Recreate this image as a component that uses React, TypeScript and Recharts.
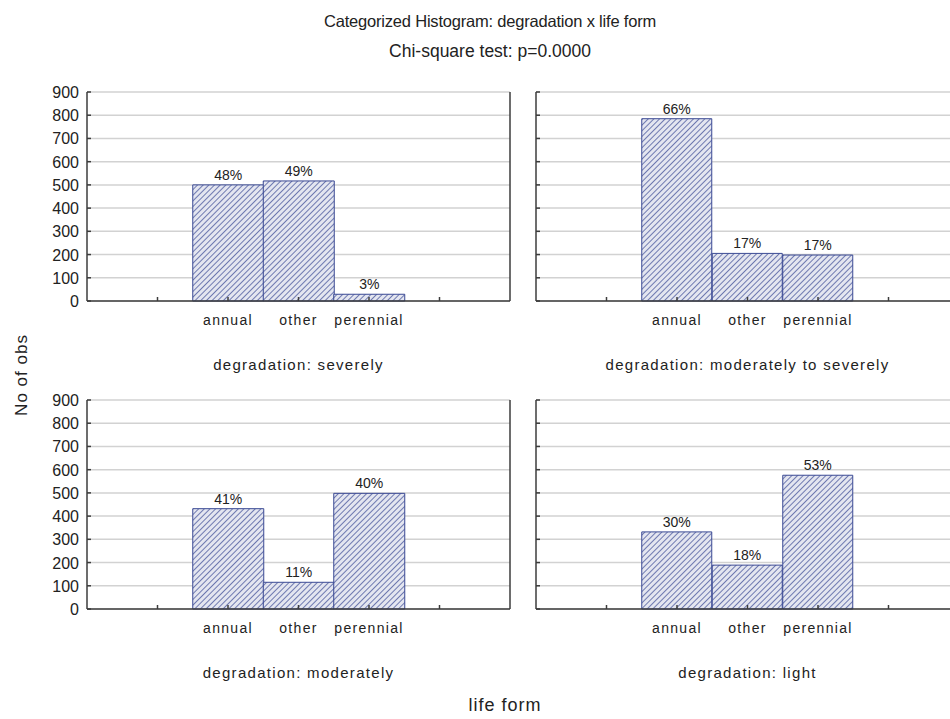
import { Bar, BarChart, CartesianGrid, LabelList, XAxis, YAxis } from "recharts";

const CATEGORIES = ["annual", "other", "perennial"];
const X_TICKS = [1, 2, 3, 4, 5]; // slot 2..4 hold the categories
const Y_TICKS = [0, 100, 200, 300, 400, 500, 600, 700, 800, 900];

const SEVERELY = [500, 517, 29];
const SEVERELY_PCT = ["48%", "49%", "3%"];
const MOD_TO_SEVERELY = [785, 205, 198];
const MOD_TO_SEVERELY_PCT = ["66%", "17%", "17%"];
const MODERATELY = [432, 115, 498];
const MODERATELY_PCT = ["41%", "11%", "40%"];
const LIGHT = [332, 189, 576];
const LIGHT_PCT = ["30%", "18%", "53%"];

const FONT = '"Liberation Sans", Arial, sans-serif';
const AXIS = "#3c3c3c";
const NAVY = "#3b4a94";
const PLOT_W = 423;
const PLOT_H = 209;

function XTick(props: any) {
  const { x, y, payload, dir, showLabel } = props;
  const label = CATEGORIES[payload.value - 2];
  return (
    <g>
      <line x1={x} x2={x} y1={y} y2={y + dir * 4} stroke={AXIS} strokeWidth={1.5} />
      {showLabel && label && (
        <text x={x} y={y + 24} textAnchor="middle" fontSize={14} letterSpacing={1.3} fill="#222" fontFamily={FONT}>
          {label}
        </text>
      )}
    </g>
  );
}

function YTick(props: any) {
  const { x, y, payload, dir, showLabel } = props;
  return (
    <g>
      <line x1={x} x2={x + dir * 4} y1={y} y2={y} stroke={AXIS} strokeWidth={1.5} />
      {showLabel && (
        <text x={x - 8} y={y + 6} textAnchor="end" fontSize={16} fill="#222" fontFamily={FONT}>
          {payload.value}
        </text>
      )}
    </g>
  );
}

interface PanelProps {
  id: string;
  left: number;
  top: number;
  values: number[];
  pcts: string[];
  title: string;
  showYLabels: boolean;
}

function Panel({ id, left, top, values, pcts, title, showYLabels }: PanelProps) {
  const data = CATEGORIES.map((name, i) => ({
    slot: i + 2,
    name,
    value: values[i],
    pct: pcts[i],
  }));
  const yW = showYLabels ? 87 : 10;
  const width = yW + PLOT_W + 1;
  return (
    <div style={{ position: "absolute", left, top }}>
      <BarChart
        width={width}
        height={10 + PLOT_H + 30}
        data={data}
        margin={{ top: 10, right: 0, bottom: 0, left: 0 }}
        barCategoryGap={0}
        barGap={0}
      >
        <defs>
          <pattern id={`hatch-${id}`} width={4} height={4} patternUnits="userSpaceOnUse" patternTransform="rotate(45)">
            <rect width={4} height={4} fill="#e4e6f0" />
            <line x1={0} y1={0} x2={0} y2={4} stroke={NAVY} strokeWidth={1.4} />
          </pattern>
        </defs>
        <CartesianGrid vertical={false} stroke="#d2d2d2" strokeWidth={1.5} />
        <XAxis
          dataKey="slot"
          type="number"
          domain={[0, 6]}
          ticks={X_TICKS}
          height={30}
          tickSize={0}
          tickMargin={0}
          axisLine={{ stroke: AXIS, strokeWidth: 1.5 }}
          tickLine={false}
          tick={(p: any) => <XTick {...p} dir={-1} showLabel />}
        />
        <XAxis
          xAxisId="top"
          orientation="top"
          dataKey="slot"
          type="number"
          domain={[0, 6]}
          ticks={X_TICKS}
          height={0}
          tickSize={0}
          tickMargin={0}
          axisLine={{ stroke: AXIS, strokeWidth: 1.5 }}
          tickLine={false}
          tick={(p: any) => <XTick {...p} dir={1} showLabel={false} />}
        />
        <YAxis
          domain={[0, 900]}
          ticks={Y_TICKS}
          width={yW}
          tickSize={0}
          tickMargin={0}
          axisLine={{ stroke: AXIS, strokeWidth: 1.5 }}
          tickLine={false}
          tick={(p: any) => <YTick {...p} dir={1} showLabel={showYLabels} />}
        />
        <YAxis
          yAxisId="right"
          orientation="right"
          domain={[0, 900]}
          ticks={Y_TICKS}
          width={1}
          tickSize={0}
          tickMargin={0}
          axisLine={{ stroke: AXIS, strokeWidth: 1.5 }}
          tickLine={false}
          tick={(p: any) => <YTick {...p} dir={-1} showLabel={false} />}
        />
        <Bar
          dataKey="value"
          fill={`url(#hatch-${id})`}
          stroke={NAVY}
          strokeWidth={1}
          isAnimationActive={false}
        >
          <LabelList dataKey="pct" position="top" offset={5} fill="#222" fontSize={14} fontFamily={FONT} />
        </Bar>
      </BarChart>
      <div
        style={{
          position: "absolute",
          left: yW,
          width: PLOT_W,
          top: 10 + PLOT_H + 55,
          textAlign: "center",
          fontSize: 15,
          letterSpacing: 1.3,
          color: "#222",
          fontFamily: FONT,
          whiteSpace: "nowrap",
        }}
      >
        {title}
      </div>
    </div>
  );
}

export default function App() {
  return (
    <div
      style={{
        position: "absolute",
        left: 0,
        top: 0,
        width: 950,
        height: 719,
        overflow: "hidden",
        background: "#fff",
        fontFamily: FONT,
        color: "#222",
      }}
    >
      <div style={{ position: "absolute", left: 240, width: 500, top: 12, textAlign: "center", fontSize: 16.5, letterSpacing: -0.2, whiteSpace: "nowrap" }}>
        Categorized Histogram: degradation x life form
      </div>
      <div style={{ position: "absolute", left: 240, width: 500, top: 41, textAlign: "center", fontSize: 17.5, whiteSpace: "nowrap" }}>
        Chi-square test: p=0.0000
      </div>
      <div
        style={{
          position: "absolute",
          left: 22,
          top: 375,
          fontSize: 17,
          letterSpacing: 1,
          whiteSpace: "nowrap",
          transform: "translate(-50%, -50%) rotate(-90deg)",
        }}
      >
        No of obs
      </div>
      <div style={{ position: "absolute", left: 405, width: 200, top: 695, textAlign: "center", fontSize: 18, letterSpacing: 1 }}>
        life form
      </div>

      <Panel id="a" left={0} top={82} values={SEVERELY} pcts={SEVERELY_PCT} title="degradation: severely" showYLabels />
      <Panel id="b" left={526} top={82} values={MOD_TO_SEVERELY} pcts={MOD_TO_SEVERELY_PCT} title="degradation: moderately to severely" showYLabels={false} />
      <Panel id="c" left={0} top={390} values={MODERATELY} pcts={MODERATELY_PCT} title="degradation: moderately" showYLabels />
      <Panel id="d" left={526} top={390} values={LIGHT} pcts={LIGHT_PCT} title="degradation: light" showYLabels={false} />
    </div>
  );
}
